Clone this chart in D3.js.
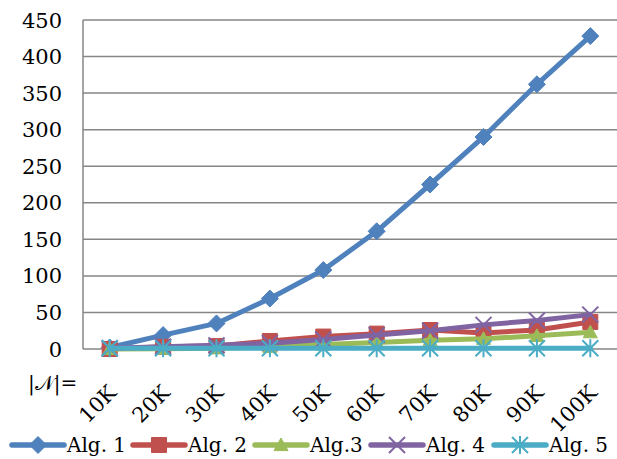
<!DOCTYPE html>
<html><head><meta charset="utf-8">
<script src="https://cdn.jsdelivr.net/npm/d3@7"></script>
<style>body{margin:0;background:#fff}svg{display:block}text{font-family:"DejaVu Serif",serif;fill:#000}</style>
</head><body><svg id="c" width="617" height="459"></svg>
<script>
const categories = ["10K","20K","30K","40K","50K","60K","70K","80K","90K","100K"];
const seriesNames = ["Alg. 1","Alg. 2","Alg.3","Alg. 4","Alg. 5"];
const alg1 = [2, 19, 35, 69, 108, 161, 225, 290, 362, 428];
const alg2 = [0, 3, 4, 11, 17, 21, 26, 22, 26, 37];
const alg3 = [0, 0.5, 1, 3, 6, 9, 12, 14, 18, 23];
const alg4 = [1, 3, 5, 8, 13, 19, 25, 33, 39, 47];
const alg5 = [1, 1, 1, 1, 1, 1, 1, 1, 1, 1];
const yTicks = [0, 50, 100, 150, 200, 250, 300, 350, 400, 450];
const colors = ["#4F81BD","#C0504D","#9BBB59","#8064A2","#4BACC6"];
const markers = ["diamond","square","triangle","x","star"];
const data = [alg1, alg2, alg3, alg4, alg5];

const svg = d3.select("#c");
const L = 83, R = 617, T = 20, B = 349;
const x = d3.scaleBand().domain(categories).range([L, R]);
const y = d3.scaleLinear().domain([0, 450]).range([B, T]);

svg.append("g").selectAll("line").data(yTicks.filter(d => d > 0)).join("line")
  .attr("x1", L).attr("x2", R).attr("y1", d => y(d)).attr("y2", d => y(d))
  .attr("stroke", "#868686").attr("stroke-width", 1.5);
svg.append("line").attr("x1", L).attr("x2", L).attr("y1", T).attr("y2", B).attr("stroke", "#868686").attr("stroke-width", 1.5);
svg.append("line").attr("x1", L).attr("x2", R).attr("y1", B).attr("y2", B).attr("stroke", "#868686").attr("stroke-width", 1.5);

svg.append("g").selectAll("text").data(yTicks).join("text")
  .attr("x", 62).attr("y", d => y(d)).attr("dy", "0.36em")
  .attr("text-anchor", "end").attr("font-size", 21).text(d => d);

svg.append("g").selectAll("text").data(categories).join("text")
  .attr("transform", d => `translate(${x(d) + x.bandwidth()/2 + 8},${B + 45}) rotate(-45)`)
  .attr("text-anchor", "end").attr("font-size", 21).text(d => d);

svg.append("text").attr("x", 28).attr("y", 390).attr("font-size", 20).text("|𝒩|=");

function markerPath(type, s) {
  const h = s / 2;
  switch (type) {
    case "diamond": return `M0,${-h}L${h},0L0,${h}L${-h},0Z`;
    case "square": return `M${-h},${-h}H${h}V${h}H${-h}Z`;
    case "triangle": return `M0,${-h}L${h},${h*0.8}L${-h},${h*0.8}Z`;
    case "x": return `M${-h},${-h}L${h},${h}M${h},${-h}L${-h},${h}`;
    case "star": return `M${-h},${-h}L${h},${h}M${h},${-h}L${-h},${h}M0,${-h-1}V${h+1}`;
  }
}
const markerSize = [17, 15, 14, 16, 16];

const line = d3.line().x((d, i) => x(categories[i]) + x.bandwidth()/2).y(d => y(d));
data.forEach((vals, si) => {
  const g = svg.append("g");
  g.append("path").attr("d", line(vals)).attr("fill", "none")
    .attr("stroke", colors[si]).attr("stroke-width", 5).attr("stroke-linejoin", "round").attr("stroke-linecap", "round");
  const open = markers[si] === "x" || markers[si] === "star";
  g.selectAll("path.m").data(vals).join("path").attr("class", "m")
    .attr("transform", (d, i) => `translate(${x(categories[i]) + x.bandwidth()/2},${y(d)})`)
    .attr("d", markerPath(markers[si], markerSize[si]))
    .attr("fill", open ? "none" : colors[si])
    .attr("stroke", colors[si]).attr("stroke-width", open ? 2 : 1);
});

const legX = [12, 133, 255, 371, 494];
const leg = svg.append("g");
seriesNames.forEach((n, i) => {
  const cx = legX[i] + 26, cy = 445;
  leg.append("line").attr("x1", legX[i]).attr("x2", legX[i] + 52).attr("y1", cy).attr("y2", cy)
    .attr("stroke", colors[i]).attr("stroke-width", 5.5).attr("stroke-linecap", "round");
  const open = markers[i] === "x" || markers[i] === "star";
  leg.append("path").attr("transform", `translate(${cx},${cy})`)
    .attr("d", markerPath(markers[i], markerSize[i]))
    .attr("fill", open ? "none" : colors[i]).attr("stroke", colors[i]).attr("stroke-width", open ? 2 : 1);
  leg.append("text").attr("x", legX[i] + 55).attr("y", cy).attr("dy", "0.36em").attr("font-size", 20).text(n);
});
</script></body></html>
